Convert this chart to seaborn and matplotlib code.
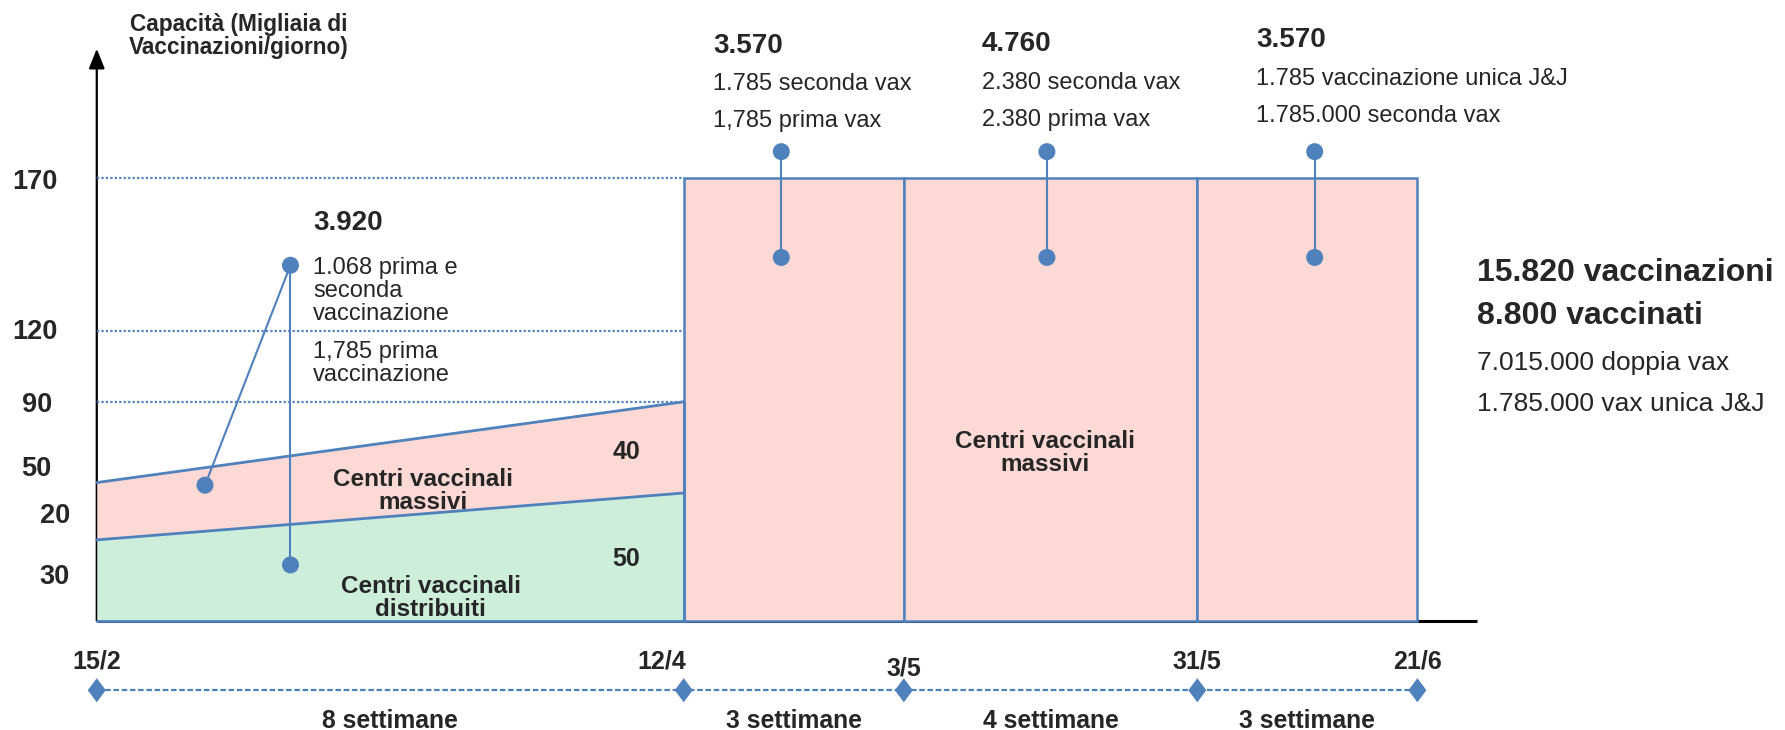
import numpy as np
import pandas as pd
import matplotlib
matplotlib.use("Agg")
import matplotlib.pyplot as plt
from matplotlib.path import Path
import seaborn as sns

# ---------------- data ----------------
date_labels = ["15/2", "12/4", "3/5", "31/5", "21/6"]
weeks_per_phase = [8, 3, 4, 3]
phase_labels = ["8 settimane", "3 settimane", "4 settimane", "3 settimane"]

# phase 1: capacity (thousand vaccinations/day) as drawn at start and end
distribuiti_capacity = [31, 49]
massivi_total_capacity = [53, 84]
# phases 2-4: massive vaccination centres
massivi_capacity = [170, 170, 170]

reference_levels = [84, 111, 170]
reference_labels = ["90", "120", "170"]
segment_labels = ["50", "20", "30"]
end_labels = ["40", "50"]

phase_totals = ["3.920", "3.570", "4.760", "3.570"]
phase_details = [
    ["1.068 prima e\nseconda\nvaccinazione", "1,785 prima\nvaccinazione"],
    ["1.785 seconda vax", "1,785 prima vax"],
    ["2.380 seconda vax", "2.380 prima vax"],
    ["1.785 vaccinazione unica J&J", "1.785.000 seconda vax"],
]
area_labels = ["Centri vaccinali\nmassivi", "Centri vaccinali\ndistribuiti", "Centri vaccinali\nmassivi"]
summary_bold = ["15.820 vaccinazioni", "8.800 vaccinati"]
summary_regular = ["7.015.000 doppia vax", "1.785.000 vax unica J&J"]
y_title = "Capacità (Migliaia di\nVaccinazioni/giorno)"

# ---------------- style ----------------
sns.set_theme(style="white")
plt.rcParams["font.family"] = ["Liberation Sans", "DejaVu Sans"]

BLUE = "#4f81bd"
PINK = "#fdd9d6"
GREEN = "#cceedb"

fig = plt.figure(figsize=(17.85, 7.30), dpi=100)
ax = fig.add_axes([0, 0, 1, 1])

bounds = np.concatenate([[0], np.cumsum(weeks_per_phase)])
x0, x1 = bounds[0], bounds[1]

# black axes
ax.plot([0, 18.81], [0, 0], color="black", lw=2.2, zorder=1, solid_capstyle="butt")
ax.annotate("", xy=(0, 219.5), xytext=(0, 0),
            arrowprops=dict(arrowstyle="-|>,head_length=1.0,head_width=0.4",
                            color="black", lw=1.6, shrinkA=0, shrinkB=0), zorder=1)

# phase 1 trapezoids
ax.fill_between([x0, x1], [0, 0], distribuiti_capacity, color=GREEN, lw=0, zorder=2)
ax.fill_between([x0, x1], distribuiti_capacity, massivi_total_capacity, color=PINK, lw=0, zorder=2)
ax.plot([x0, x1], distribuiti_capacity, color=BLUE, lw=2, zorder=4)
ax.plot([x0, x1], massivi_total_capacity, color=BLUE, lw=2, zorder=4)
ax.plot([x1, x1], [0, massivi_total_capacity[1]], color=BLUE, lw=2, zorder=4)
ax.plot([x0, x1], [0, 0], color=BLUE, lw=2, zorder=4)

# phases 2-4 rectangles
lefts = bounds[1:-1]
ax.bar(lefts, massivi_capacity, width=weeks_per_phase[1:], align="edge",
       color=PINK, edgecolor=BLUE, linewidth=1.8, zorder=3)

# dotted reference lines
for lv in reference_levels:
    ax.plot([x0, x1], [lv, lv], color=BLUE, lw=1.6, ls=(0, (1, 1)), zorder=3)

# timeline
diamond = Path([(0, 1), (0.75, 0), (0, -1), (-0.75, 0), (0, 1)],
               [Path.MOVETO, Path.LINETO, Path.LINETO, Path.LINETO, Path.CLOSEPOLY])
tl_y = -26.7
tl = pd.DataFrame({"x": bounds, "y": [tl_y] * len(bounds)})
sns.lineplot(data=tl, x="x", y="y", ax=ax, color=BLUE, lw=1.6, ls=(0, (2.5, 1.2)), zorder=3)
sns.scatterplot(data=tl, x="x", y="y", ax=ax, marker=diamond, s=300, color=BLUE,
                edgecolor="none", zorder=4)

# pins
pin_kw = dict(color=BLUE, lw=1.5, zorder=5)
hub = (2.64, 136.4)
ends = [(1.475, 52.0), (2.64, 21.4)]
for e in ends:
    ax.plot([hub[0], e[0]], [hub[1], e[1]], **pin_kw)
pts = [hub] + ends
pin_x = [9.33, 12.95, 16.6]
for px in pin_x:
    ax.plot([px, px], [180, 139.4], **pin_kw)
    pts += [(px, 180), (px, 139.4)]
pdf = pd.DataFrame(pts, columns=["x", "y"])
sns.scatterplot(data=pdf, x="x", y="y", ax=ax, s=150, color=BLUE, edgecolor="none", zorder=6)
ax.set_xlim(-1.319, 23.01)
ax.set_ylim(-41.96, 238.2)
ax.axis("off")

# ---------------- texts ----------------
ax.text(1.94, 224.4, y_title, ha="center", va="center", fontsize=16.3, fontweight="bold",
        linespacing=1.0, multialignment="center")

ref_pos = [(-0.81, 82.6), (-0.84, 110.6), (-0.84, 168.3)]
for (tx, ty), lab in zip(ref_pos, reference_labels):
    ax.text(tx, ty, lab, ha="center", va="center", fontsize=19.5, fontweight="bold")
seg_pos = [(-0.82, 58.1), (-0.57, 40.2), (-0.57, 16.6)]
for (tx, ty), lab in zip(seg_pos, segment_labels):
    ax.text(tx, ty, lab, ha="center", va="center", fontsize=19.5, fontweight="bold")
for ty, lab in zip([64.7, 23.6], end_labels):
    ax.text(7.22, ty, lab, ha="center", va="center", fontsize=18, fontweight="bold")

tot_pos = [(2.95, 152.5), (8.40, 220.7), (12.06, 221.2), (15.80, 222.9)]
det_y = [(126.5, 98.8), (205.9, 191.9), (206.3, 192.3), (208.0, 193.6)]
for (tx, ty), tot, dys, dets in zip(tot_pos, phase_totals, det_y, phase_details):
    ax.text(tx, ty, tot, ha="left", va="center", fontsize=20, fontweight="bold")
    for dy, d in zip(dys, dets):
        ax.text(tx, dy, d, ha="left", va="center", fontsize=17, linespacing=1.08)

area_pos = [(4.44, 49.8), (4.55, 8.6), (12.93, 64.5)]
for (tx, ty), lab in zip(area_pos, area_labels):
    ax.text(tx, ty, lab, ha="center", va="center", fontsize=17.5, fontweight="bold",
            linespacing=1.0, zorder=3.5)

for ty, lab in zip([133.3, 117.1], summary_bold):
    ax.text(18.81, ty, lab, ha="left", va="center", fontsize=23, fontweight="bold")
for ty, lab in zip([98.8, 83.0], summary_regular):
    ax.text(18.81, ty, lab, ha="left", va="center", fontsize=19)

date_dx = [0, -0.3, 0, 0, 0]
date_y = [-15.7, -15.7, -18.4, -15.7, -15.7]
for b, dx, dy, lab in zip(bounds, date_dx, date_y, date_labels):
    ax.text(b + dx, dy, lab, ha="center", va="center", fontsize=18, fontweight="bold")
mids = (bounds[:-1] + bounds[1:]) / 2
for m, lab in zip(mids, phase_labels):
    ax.text(m, -38.5, lab, ha="center", va="center", fontsize=17.8, fontweight="bold")

fig.savefig("out.png", dpi=100)
